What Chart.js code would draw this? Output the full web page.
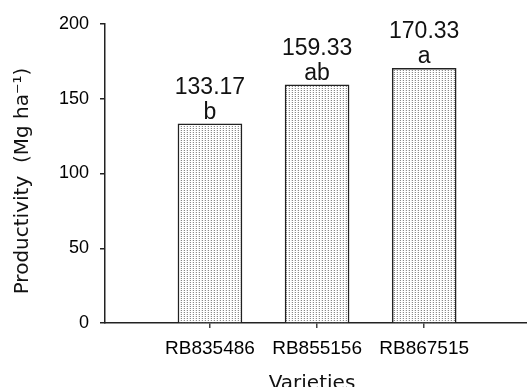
<!DOCTYPE html>
<html><head><meta charset="utf-8">
<script src="https://cdn.jsdelivr.net/npm/chart.js@4"></script>
<style>html,body{margin:0;padding:0;background:#fff}#wrap{width:527px;height:387px;position:relative}</style>
</head><body><div id="wrap"><canvas id="c" width="527" height="387"></canvas></div>
<script>
const categories = ['RB835486', 'RB855156', 'RB867515'];
const productivity = [133.17, 159.33, 170.33];
const letters = ['b', 'ab', 'a'];
const yTickValues = [0, 50, 100, 150, 200];
const yTitle = 'Productivity  (Mg ha\u207B\u00B9)';
const xTitle = 'Varieties';

// stipple pattern
const tile = document.createElement('canvas');
tile.width = 3; tile.height = 2;
const tctx = tile.getContext('2d');
tctx.fillStyle = '#ffffff'; tctx.fillRect(0, 0, 3, 2);
tctx.fillStyle = '#8a8a8a'; tctx.fillRect(1, 0, 1, 1);
tctx.fillStyle = '#e4e4e4'; tctx.fillRect(0, 0, 1, 1);
const ctx0 = document.getElementById('c').getContext('2d');
const stipple = ctx0.createPattern(tile, 'repeat');

const labelPlugin = {
  id: 'labels',
  afterDatasetsDraw(chart) {
    const ctx = chart.ctx;
    const meta = chart.getDatasetMeta(0);
    ctx.save();
    ctx.fillStyle = '#111';
    ctx.textAlign = 'center';
    ctx.textBaseline = 'alphabetic';
    ctx.font = '23px "Liberation Sans", Arial, sans-serif';
    meta.data.forEach((bar, i) => {
      ctx.fillText(productivity[i].toFixed(2), bar.x, bar.y - 30);
      ctx.fillText(letters[i], bar.x, bar.y - 5);
    });
    ctx.restore();
  },
  afterDraw(chart) {
    const ctx = chart.ctx;
    ctx.save();
    ctx.fillStyle = '#111';
    ctx.textAlign = 'center';
    ctx.textBaseline = 'middle';
    ctx.font = '20px "DejaVu Sans", sans-serif';
    const w = ctx.measureText(yTitle).width;
    const size = 20 * 227 / w;
    ctx.font = size.toFixed(1) + 'px "DejaVu Sans", sans-serif';
    ctx.translate(23, 181);
    ctx.rotate(-Math.PI / 2);
    ctx.fillText(yTitle, 0, 0);
    ctx.restore();
    ctx.save();
    ctx.fillStyle = '#111';
    ctx.textAlign = 'center';
    ctx.textBaseline = 'alphabetic';
    ctx.font = '20px "DejaVu Sans", sans-serif';
    ctx.fillText(xTitle, 312, 389);
    ctx.restore();
  }
};

new Chart(document.getElementById('c'), {
  type: 'bar',
  data: {
    datasets: [{
      data: productivity.map((v, i) => ({ x: i + 1, y: v })),
      backgroundColor: stipple,
      borderColor: '#222',
      borderWidth: 1.5,
      barThickness: 64
    }]
  },
  options: {
    responsive: false,
    animation: false,
    devicePixelRatio: 1,
    layout: { padding: { left: 0, top: 24, right: 0, bottom: 0 } },
    plugins: { legend: { display: false }, tooltip: { enabled: false } },
    scales: {
      x: {
        type: 'linear',
        offset: false,
        min: 0.02,
        max: 3.96,
        afterBuildTicks(scale) { scale.ticks = [1, 2, 3].map(v => ({ value: v })); },
        afterFit(scale) { scale.height = 64; },
        ticks: {
          callback: (v) => categories[v - 1] || '',
          font: { family: '"Liberation Sans", Arial, sans-serif', size: 19 },
          color: '#000',
          padding: 9,
          maxRotation: 0,
          autoSkip: false
        },
        grid: { display: true, offset: false, drawOnChartArea: false, tickLength: 5, tickColor: '#444', lineWidth: 1.5 },
        border: { display: true, color: '#222', width: 1.5 }
      },
      y: {
        min: 0,
        max: 200,
        afterBuildTicks(scale) { scale.ticks = yTickValues.map(v => ({ value: v })); },
        afterFit(scale) { scale.width = 105; },
        ticks: {
          font: { family: '"Liberation Sans", Arial, sans-serif', size: 18 },
          color: '#000',
          padding: 11
        },
        grid: { display: true, drawOnChartArea: false, tickLength: 5, tickColor: '#222', lineWidth: 1.5 },
        border: { display: true, color: '#222', width: 1.5 }
      }
    }
  },
  plugins: [labelPlugin]
});
</script>
</body></html>
